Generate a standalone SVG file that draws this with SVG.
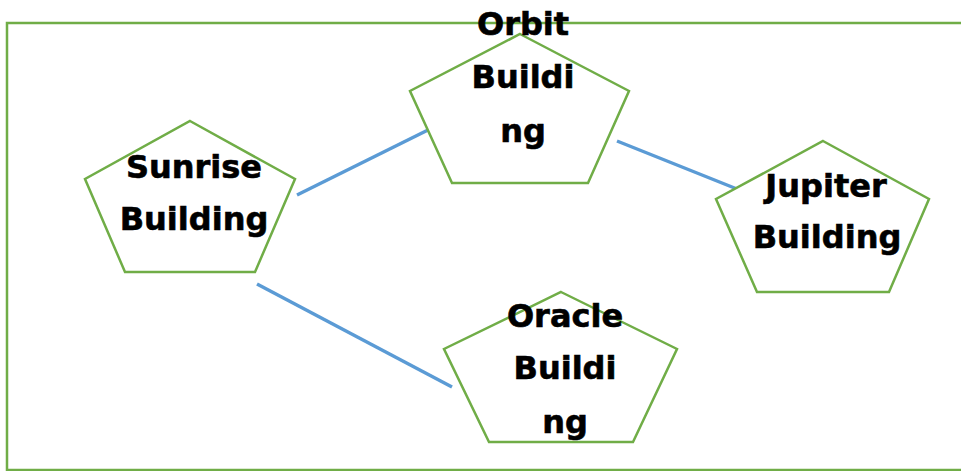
<svg xmlns="http://www.w3.org/2000/svg" width="961" height="471" viewBox="0 0 961 471">
  <style>
    .frame { fill: none; stroke: #70AD47; stroke-width: 2.5; }
    .bldg { fill: #FFFFFF; stroke: #70AD47; stroke-width: 2.5; stroke-linejoin: miter; }
    .link { stroke: #5B9BD5; stroke-width: 3.5; stroke-linecap: butt; }
    .lbl { font-family: "DejaVu Sans", Verdana, sans-serif; font-weight: bold; font-size: 32px; fill: #000000; text-anchor: middle; stroke: #000000; stroke-width: 0.6; }
  </style>
  <rect width="961" height="471" fill="#FFFFFF"/>
  <!-- campus boundary -->
  <rect class="frame" x="7" y="23" width="962" height="447"/>

  <!-- links between buildings -->
  <g id="connectors">
    <line class="link" x1="297" y1="195" x2="430" y2="129"/>
    <line class="link" x1="617" y1="141" x2="737" y2="189"/>
    <line class="link" x1="257" y1="284" x2="452" y2="387"/>
  </g>

  <g id="sunrise">
    <polygon class="bldg" points="190,121 295,179 255,272 125,272 85,179"/>
    <text class="lbl" x="194" y="178">Sunrise</text>
    <text class="lbl" x="194" y="230">Building</text>
  </g>

  <g id="orbit">
    <polygon class="bldg" points="520,34 629,91 588,183 452,183 410,91"/>
    <text class="lbl" x="523" y="35">Orbit</text>
    <text class="lbl" x="523" y="88">Buildi</text>
    <text class="lbl" x="523" y="142">ng</text>
  </g>

  <g id="jupiter">
    <polygon class="bldg" points="823,141 929,199 889,292 757,292 716,199"/>
    <text class="lbl" x="826" y="197">Jupiter</text>
    <text class="lbl" x="827" y="248">Building</text>
  </g>

  <g id="oracle">
    <polygon class="bldg" points="561,292 677,349 633,442 489,442 444,349"/>
    <text class="lbl" x="565" y="327">Oracle</text>
    <text class="lbl" x="565" y="379">Buildi</text>
    <text class="lbl" x="565" y="433">ng</text>
  </g>
</svg>
